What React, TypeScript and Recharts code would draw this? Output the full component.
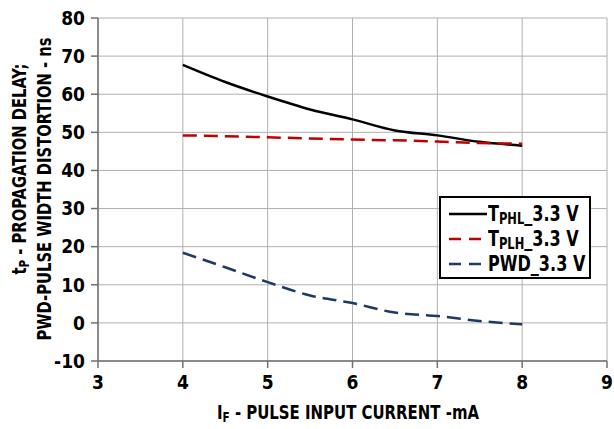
import React from "react";
import { LineChart, Line, XAxis, YAxis, CartesianGrid, Legend } from "recharts";

const CURRENT = [4, 4.5, 5, 5.5, 6, 6.5, 7, 7.5, 8];
const TPHL = [67.7, 63.2, 59.4, 56.0, 53.4, 50.5, 49.2, 47.5, 46.5];
const TPLH = [49.2, 49.0, 48.7, 48.4, 48.1, 47.9, 47.6, 47.2, 47.0];
const PWD = [18.4, 14.6, 10.7, 7.2, 5.2, 2.7, 1.8, 0.5, -0.4];
const X_TICKS = [3, 4, 5, 6, 7, 8, 9];
const Y_TICKS = [-10, 0, 10, 20, 30, 40, 50, 60, 70, 80];

const FONT = "'DejaVu Sans Condensed', 'DejaVu Sans', sans-serif";

const data = CURRENT.map((x, i) => ({ x, phl: TPHL[i], plh: TPLH[i], pwd: PWD[i] }));

const SERIES = [
  { key: "phl", pre: "T", sub: "PHL", post: "_3.3 V", color: "#000000", dash: undefined },
  { key: "plh", pre: "T", sub: "PLH", post: "_3.3 V", color: "#C00000", dash: "14 7" },
  { key: "pwd", pre: "PWD", sub: "", post: "_3.3 V", color: "#1F3864", dash: "14 7" },
];

const txt: React.CSSProperties = { fontFamily: FONT, fontStretch: "condensed", fontWeight: 700 };

function LegendBox() {
  return (
    <div
      style={{
        ...txt,
        position: "absolute",
        left: 439,
        top: 196,
        width: 152,
        height: 83,
        border: "2px solid #000",
        background: "#fff",
        boxSizing: "border-box",
        fontSize: 21,
        padding: "3px 0 0 8px",
      }}
    >
      {SERIES.map((s) => (
        <div key={s.key} style={{ display: "flex", alignItems: "center", height: 25 }}>
          <svg width={38} height={10} style={{ marginRight: 1, flex: "none" }}>
            <line x1={0} y1={5} x2={38} y2={5} stroke={s.color} strokeWidth={2.5} strokeDasharray={s.dash ? "12 8" : undefined} />
          </svg>
          <span style={{ whiteSpace: "nowrap", display: "inline-block", transform: "scaleX(0.85)", transformOrigin: "left center" }}>
            {s.pre}
            {s.sub && <span style={{ fontSize: 15, position: "relative", top: 3 }}>{s.sub}</span>}
            {s.post}
          </span>
        </div>
      ))}
    </div>
  );
}

function Rotated({ x, y, children }: { x: number; y: number; children: React.ReactNode }) {
  return (
    <div
      style={{
        ...txt,
        position: "absolute",
        left: x,
        top: y,
        transform: "translate(-50%, -50%) rotate(-90deg) scaleX(0.82)",
        whiteSpace: "nowrap",
        fontSize: 20,
        lineHeight: "22px",
      }}
    >
      {children}
    </div>
  );
}

export default function App() {
  const tick = { fill: "#000", fontSize: 19, fontWeight: 700, fontFamily: FONT, style: { fontStretch: "condensed" } };
  return (
    <div style={{ position: "relative", width: 614, height: 429, background: "#fff", fontFamily: FONT }}>
      <style>{`body{margin:0}`}</style>
      <LineChart width={614} height={429} data={data} margin={{ top: 18, right: 7, bottom: 38, left: 0 }}>
        <CartesianGrid stroke="#B0B0B0" strokeWidth={1} horizontalValues={Y_TICKS} verticalValues={X_TICKS} />
        <XAxis
          dataKey="x"
          type="number"
          domain={[3, 9]}
          ticks={X_TICKS}
          height={30}
          tick={tick}
          tickSize={7}
          tickMargin={8}
          stroke="#707070"
          strokeWidth={1.5}
          interval={0}
        />
        <YAxis
          type="number"
          domain={[-10, 80]}
          ticks={Y_TICKS}
          width={98}
          tick={tick}
          tickSize={7}
          tickMargin={6}
          stroke="#707070"
          strokeWidth={1.5}
          interval={0}
        />
        <Legend content={() => null} />
        {SERIES.map((s) => (
          <Line
            key={s.key}
            type="monotone"
            dataKey={s.key}
            stroke={s.color}
            strokeWidth={2.5}
            strokeDasharray={s.dash}
            dot={false}
            isAnimationActive={false}
          />
        ))}
      </LineChart>
      <LegendBox />
      <div
        style={{
          ...txt,
          position: "absolute",
          left: 348,
          top: 412,
          transform: "translate(-50%, -50%) scaleX(0.83)",
          whiteSpace: "nowrap",
          fontSize: 20,
        }}
      >
        I<span style={{ fontSize: 14, position: "relative", top: 3 }}>F</span> - PULSE INPUT CURRENT -mA
      </div>
      <Rotated x={20} y={169}>
        t<span style={{ fontSize: 14, position: "relative", top: 3 }}>P</span> - PROPAGATION DELAY;
      </Rotated>
      <Rotated x={44} y={189}>
        PWD-PULSE WIDTH DISTORTION - ns
      </Rotated>
    </div>
  );
}
